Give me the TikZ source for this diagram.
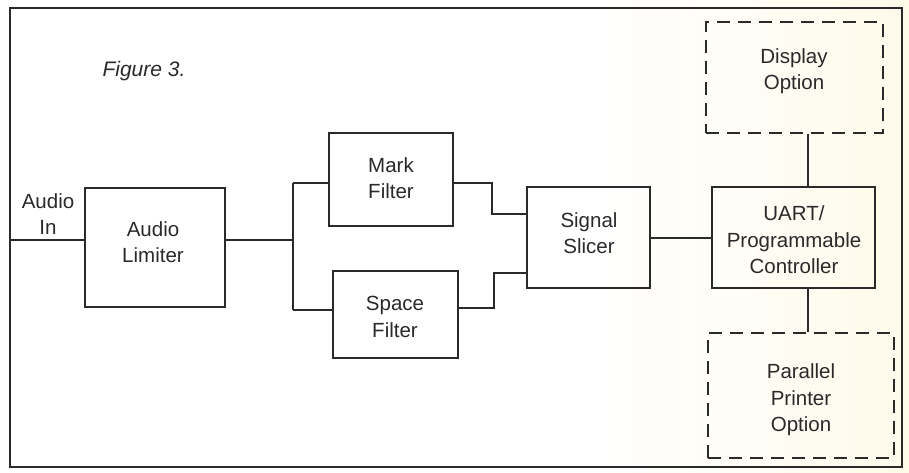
\documentclass[tikz,border=0pt]{standalone}
\usepackage{fontspec}
\setmainfont{Liberation Sans}
\definecolor{ink}{HTML}{2A2A2A}
\definecolor{paperR}{HTML}{FEFAEA}
\begin{document}
\begin{tikzpicture}[x=1pt,y=-1pt,
  blk/.style={draw=ink,line width=1.2pt,rectangle,inner sep=0pt},
  optbox/.style={blk,dash pattern=on 13pt off 8pt},
  txt/.style={align=center,text=ink,font=\fontsize{20.5}{26.5}\selectfont,inner sep=0pt},
  wire/.style={draw=ink,line width=1.2pt}]
\useasboundingbox (0,0) rectangle (909,472);
\fill[white] (0,0) rectangle (909,472);
\shade[left color=white,right color=paperR] (600,0) rectangle (909,472);
% frame
\node[blk,minimum width=892pt,minimum height=459pt] (frame) at (456,237.5) {};
% title
\node[txt,font=\fontsize{21}{26}\selectfont\itshape] (title) at (144,71) {Figure 3.};
% blocks
\node[blk,minimum width=140pt,minimum height=119pt] (lim) at (155,247.5) {};
\node[txt] (limT) at (153,242) {Audio\\Limiter};
\node[blk,minimum width=124pt,minimum height=93pt] (mark) at (391,179.5) {};
\node[txt] (markT) at (391,178) {Mark\\Filter};
\node[blk,minimum width=125pt,minimum height=87pt] (space) at (395.5,314.5) {};
\node[txt] (spaceT) at (395,317) {Space\\Filter};
\node[blk,minimum width=123pt,minimum height=101pt] (slicer) at (588.5,237.5) {};
\node[txt] (slicerT) at (589,233) {Signal\\Slicer};
\node[blk,minimum width=163pt,minimum height=101pt] (uart) at (793.5,237.5) {};
\node[txt] (uartT) at (794,240) {UART/\\Programmable\\Controller};
\node[optbox,minimum width=177pt,minimum height=111pt] (disp) at (794.5,77.5) {};
\node[txt] (dispT) at (794,71) {Display\\Option};
\node[optbox,minimum width=186pt,minimum height=125pt] (prn) at (801,395.5) {};
\node[txt] (prnT) at (801,400) {Parallel\\Printer\\Option};
\node[txt] (inT) at (48,214) {Audio\\In};
% junction
\coordinate (j) at (293,240);
% connectors
\draw[wire] (frame.west |- 0,240) -- (lim.west |- 0,240);
\draw[wire] (lim.east |- 0,240) -- (j);
\draw[wire] (j |- 0,183) -- (j |- 0,310);
\draw[wire] (j |- 0,183) -- (mark.west |- 0,183);
\draw[wire] (j |- 0,310) -- (space.west |- 0,310);
\draw[wire] (mark.east |- 0,183) -| (492,214) -- (slicer.west |- 0,214);
\draw[wire] (space.east |- 0,308) -| (494,273) -- (slicer.west |- 0,273);
\draw[wire] (slicer.east |- 0,238) -- (uart.west |- 0,238);
\draw[wire] (uart.north -| 808,0) -- (disp.south -| 808,0);
\draw[wire] (uart.south -| 808,0) -- (prn.north -| 808,0);
\end{tikzpicture}
\end{document}
